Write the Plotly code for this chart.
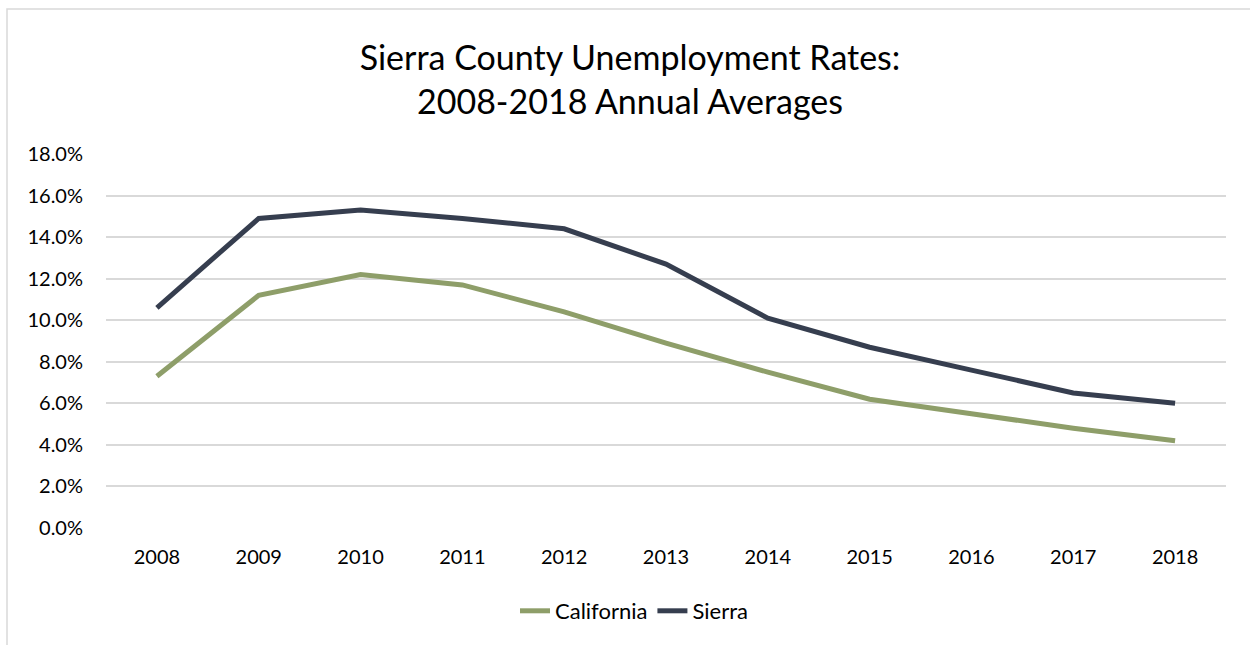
import plotly.graph_objects as go

years = ["2008", "2009", "2010", "2011", "2012", "2013", "2014", "2015", "2016", "2017", "2018"]
california = [7.3, 11.2, 12.2, 11.7, 10.4, 8.9, 7.5, 6.2, 5.5, 4.8, 4.2]
sierra = [10.6, 14.9, 15.3, 14.9, 14.4, 12.7, 10.1, 8.7, 7.6, 6.5, 6.0]
y_ticks = [0, 2, 4, 6, 8, 10, 12, 14, 16, 18]

FONT = "Lato, 'Open Sans', sans-serif"
W, H = 1250, 645
ML, MR, MT, MB = 106, 24, 154, 117

fig = go.Figure()
fig.add_trace(go.Scatter(x=years, y=california, name="California", mode="lines",
                         line=dict(color="#8E9E69", width=5)))
fig.add_trace(go.Scatter(x=years, y=sierra, name="Sierra", mode="lines",
                         line=dict(color="#363E4F", width=5)))

pw, ph = W - ML - MR, H - MT - MB
# outer chart border (left and top edges visible)
fig.add_shape(type="rect", xref="paper", yref="paper",
              x0=(7 - ML) / pw, x1=(W + 20 - ML) / pw,
              y0=-(H + 20 - MT - ph) / ph, y1=(H - MB - 9) / ph,
              line=dict(color="#D9D9D9", width=1.5), fillcolor="rgba(0,0,0,0)")

fig.update_layout(
    width=W, height=H,
    margin=dict(l=ML, r=MR, t=MT, b=MB),
    paper_bgcolor="white", plot_bgcolor="white",
    font=dict(family=FONT, size=20, color="#000000"),
    title=dict(text="Sierra County Unemployment Rates:<br>2008-2018 Annual Averages",
               x=630 / W, xanchor="center", xref="container", yref="container",
               y=1 - 70 / H, yanchor="middle",
               font=dict(family=FONT, size=34, color="#000000")),
    xaxis=dict(type="category", range=[-0.5, 10.5], showgrid=False, showline=False,
               ticks="", tickfont=dict(size=20), ticklabelstandoff=15),
    yaxis=dict(range=[0, 18], tickvals=y_ticks,
               ticktext=[f"{v:.1f}%" for v in y_ticks],
               showgrid=True, gridcolor="#D9D9D9", gridwidth=1.5,
               zeroline=False, showline=False, ticks="", tickfont=dict(size=20),
               ticklabelstandoff=22),
    legend=dict(orientation="h", x=(634 - ML) / pw, xanchor="center",
                y=-(611 - (H - MB)) / ph,
                yanchor="middle", font=dict(size=22), itemwidth=30),
    showlegend=True,
)

fig.write_html("out.html")
